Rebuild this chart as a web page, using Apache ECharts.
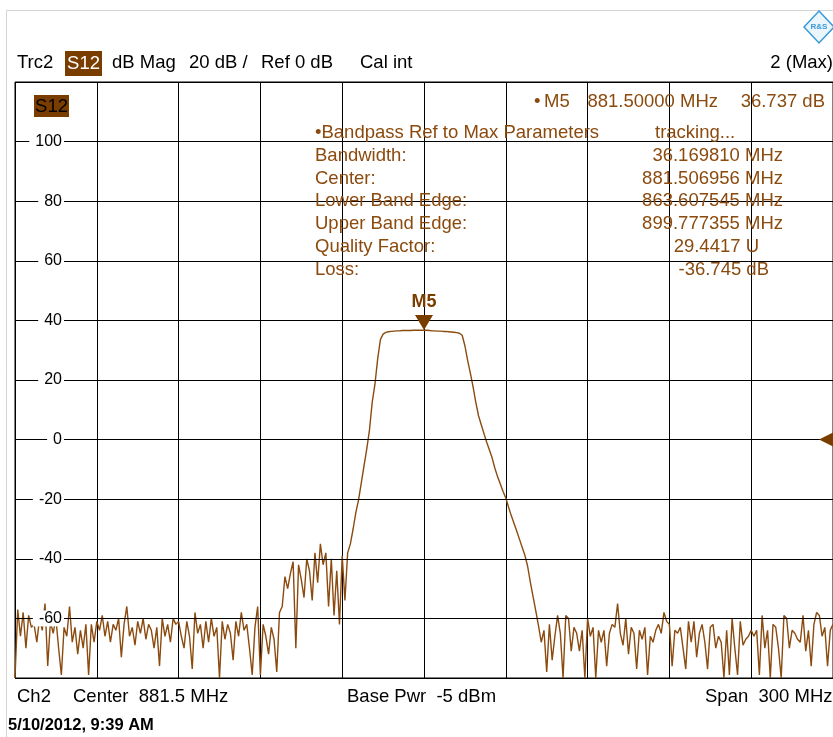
<!DOCTYPE html>
<html><head><meta charset="utf-8">
<script src="https://cdn.jsdelivr.net/npm/echarts@6/dist/echarts.min.js"></script>
<style>html,body{margin:0;padding:0;background:#fff}#c{width:833px;height:737px}</style>
</head><body><div id="c"></div>
<script>
// ---- data ----
const freqStart = 731.5;   // MHz (center 881.5, span 300)
const freqStep = 1.0;      // MHz per sweep point
const s12dB = [
 -80,-57,-66,-58,-70,-59,-63,-62,-68,-60,
 -64,-55,-76,-61,-65,-60,-70,-79,-63,-66,
 -56,-68,-63,-72,-64,-70,-62,-79,-62,-68,
 -61,-64,-59,-66,-61,-68,-62,-64,-60,-73,
 -62,-56,-66,-63,-69,-61,-65,-60,-67,-62,
 -64,-70,-63,-76,-60,-66,-62,-68,-60,-62,
 -61,-66,-70,-61,-66,-77,-58,-65,-62,-70,
 -61,-68,-60,-66,-63,-80,-61,-67,-62,-65,
 -74,-61,-66,-58,-64,-62,-70,-79,-63,-56,
 -79,-62,-66,-72,-63,-67,-78,-58,-56,-46,
 -50,-45,-41,-70,-42,-47,-53,-40,-44,-54,
 -38,-48,-35,-42,-38,-56,-40,-59,-44,-62,
 -39,-54,-38,-35,-30,-24.5,-20.2,-14.5,-8.8,-3.2,
 3.2,12.5,18.5,27,33.5,35.4,36.0,36.2,36.3,36.4,
 36.5,36.5,36.6,36.6,36.6,36.6,36.7,36.7,36.7,36.7,
 36.737,36.7,36.6,36.5,36.5,36.4,36.4,36.3,36.3,36.2,
 36.1,36.0,35.9,35.7,35.0,31.5,26.6,22.3,17.7,12.5,
 8.0,5.0,2.0,-0.9,-3.5,-6.2,-9.6,-12.5,-14.9,-17.4,
 -19.6,-22.6,-25.5,-28.1,-30.7,-33.4,-36.1,-38.8,-42.5,-47.8,
 -52.7,-57.5,-62.5,-68,-64,-78,-62,-74,-66,-59,
 -65,-80,-59,-60,-71,-63,-65,-71,-64,-80,
 -60,-66,-63,-80,-64,-68,-64,-76,-65,-62,
 -63,-55,-65,-69,-60,-72,-63,-65,-77,-64,
 -67,-63,-79,-66,-68,-64,-62,-65,-58,-61,
 -62,-76,-64,-65,-63,-70,-77,-61,-68,-61,
 -73,-65,-62,-68,-77,-63,-62,-70,-66,-68,
 -80,-64,-79,-60,-70,-79,-61,-69,-67,-66,
 -64,-66,-64,-79,-59,-70,-64,-80,-62,-63,
 -70,-80,-59,-60,-70,-64,-65,-67,-68,-59,
 -71,-64,-76,-62,-58,-59,-66,-63,-76,-64,
 -62
];
const yMin = -80, yMax = 120, yStep = 20;
const xDivisionPoints = 30;            // sweep points per grid division
const markerName = 'M5';
const markerFreq = '881.5';
const markerValue = 36.737;
const refLevel = 0;
const lastFreq = '1031.5';

const headerTexts = [
  ['Trc2', 17], ['dB Mag', 112], ['20 dB /', 189], ['Ref 0 dB', 261], ['Cal int', 360]
];
const bandpassLabels = ['Bandwidth:', 'Center:', 'Lower Band Edge:', 'Upper Band Edge:', 'Quality Factor:', 'Loss:'];
const bandpassValues = ['36.169810 MHz', '881.506956 MHz', '863.607545 MHz', '899.777355 MHz', '29.4417 U', '-36.745 dB'];
const footerTexts = [['Ch2', 17], ['Center  881.5 MHz', 73], ['Base Pwr  -5 dBm', 347], ['Span  300 MHz', 705]];

// ---- chart ----
const freqLabels = s12dB.map((_, i) => (freqStart + i * freqStep).toFixed(1));
const BROWN = '#8b4a0e', BOX = '#7a3d00';
const FF = '"Liberation Sans", Arial, sans-serif';
const F = (s, b) => (b ? 'bold ' : '') + s + 'px ' + FF;

function T(text, x, y, o) {
  o = o || {};
  return {
    type: 'text', z: 100,
    style: {
      text: text, x: x, y: y, font: o.font || F(18.5), fill: o.fill || '#000',
      align: o.align || 'left', textAlign: o.align || 'left',
      verticalAlign: 'middle', textVerticalAlign: 'middle'
    }
  };
}

const graphic = [];
graphic.push({ type: 'rect', z: 0, shape: { x: 6.5, y: 10.5, width: 900, height: 800 },
  style: { fill: 'none', stroke: '#d4d4d4', lineWidth: 1 } });
// logo
graphic.push({ type: 'polygon', z: 100, shape: { points: [[819, 11], [834, 27], [819, 43], [804, 27]] },
  style: { fill: '#eaf5fc', stroke: '#3a9ad9', lineWidth: 1.5 } });
graphic.push(T('R&S', 819, 27, { font: F(8, true), fill: '#3a9ad9', align: 'center' }));
headerTexts.forEach(h => graphic.push(T(h[0], h[1], 63)));
graphic.push({ type: 'rect', z: 100, shape: { x: 65, y: 51, width: 37, height: 25 }, style: { fill: BOX } });
graphic.push(T('S12', 83.5, 63.5, { fill: '#fff', align: 'center' }));
graphic.push(T('2 (Max)', 833, 63, { align: 'right' }));
graphic.push({ type: 'rect', z: 100, shape: { x: 34, y: 95, width: 35, height: 22 }, style: { fill: BOX } });
graphic.push(T('S12', 51.5, 106.5, { fill: '#000', align: 'center' }));
// marker readout
graphic.push(T('\u2022', 534, 102, { fill: BROWN }));
graphic.push(T(markerName, 544, 102, { fill: BROWN }));
graphic.push(T('881.50000 MHz', 718, 102, { fill: BROWN, align: 'right' }));
graphic.push(T('36.737 dB', 825, 102, { fill: BROWN, align: 'right' }));
// bandpass block
graphic.push(T('\u2022Bandpass Ref to Max Parameters', 315, 133, { fill: BROWN }));
graphic.push(T('tracking...', 655, 133, { fill: BROWN }));
const valueRight = [783, 783, 783, 783, 759, 769];
bandpassLabels.forEach((l, i) => {
  const y = 156 + i * 22.7;
  graphic.push(T(l, 315, y, { fill: BROWN }));
  graphic.push(T(bandpassValues[i], valueRight[i], y, { fill: BROWN, align: 'right' }));
});
footerTexts.forEach(f => graphic.push(T(f[0], f[1], 697)));
graphic.push(T('5/10/2012, 9:39 AM', 8, 725, { font: F(16.5, true) }));

const chart = echarts.init(document.getElementById('c'), null, { renderer: 'canvas' });
chart.setOption({
  animation: false,
  backgroundColor: '#fff',
  grid: { left: 15, right: -2, top: 82, bottom: 59, show: true, borderColor: '#000', borderWidth: 1, backgroundColor: 'transparent' },
  xAxis: {
    type: 'category', data: freqLabels, boundaryGap: false,
    axisLine: { show: false }, axisTick: { show: false }, axisLabel: { show: false },
    splitLine: { show: true, interval: xDivisionPoints - 1, lineStyle: { color: '#000', width: 1 } }
  },
  yAxis: {
    type: 'value', min: yMin, max: yMax, interval: yStep,
    axisLine: { show: false }, axisTick: { show: false },
    splitLine: { show: true, lineStyle: { color: '#000', width: 1 } },
    axisLabel: {
      inside: true, margin: 49, align: 'right', color: '#000', fontSize: 16, fontFamily: FF,
      backgroundColor: '#fff', padding: [0, 2, 0, 6], showMinLabel: false, showMaxLabel: false
    },
    z: 3
  },
  graphic: graphic,
  series: [{
    type: 'line', data: s12dB, showSymbol: false, clip: true,
    lineStyle: { color: BROWN, width: 1.4 }, itemStyle: { color: BROWN },
    z: 2,
    markPoint: {
      silent: true, animation: false,
      data: [
        {
          coord: [markerFreq, markerValue], symbol: 'triangle', symbolRotate: 180,
          symbolSize: [18, 15], symbolOffset: [0, -7.5], itemStyle: { color: BOX },
          label: { show: true, formatter: markerName, position: 'top', distance: 4, color: BOX,
            fontWeight: 'bold', fontSize: 18, fontFamily: FF }
        },
        {
          coord: [lastFreq, refLevel], symbol: 'triangle', symbolRotate: 90,
          symbolSize: [14, 14], symbolOffset: [-7, 0], itemStyle: { color: BOX },
          label: { show: false }
        }
      ]
    }
  }]
});
</script></body></html>
